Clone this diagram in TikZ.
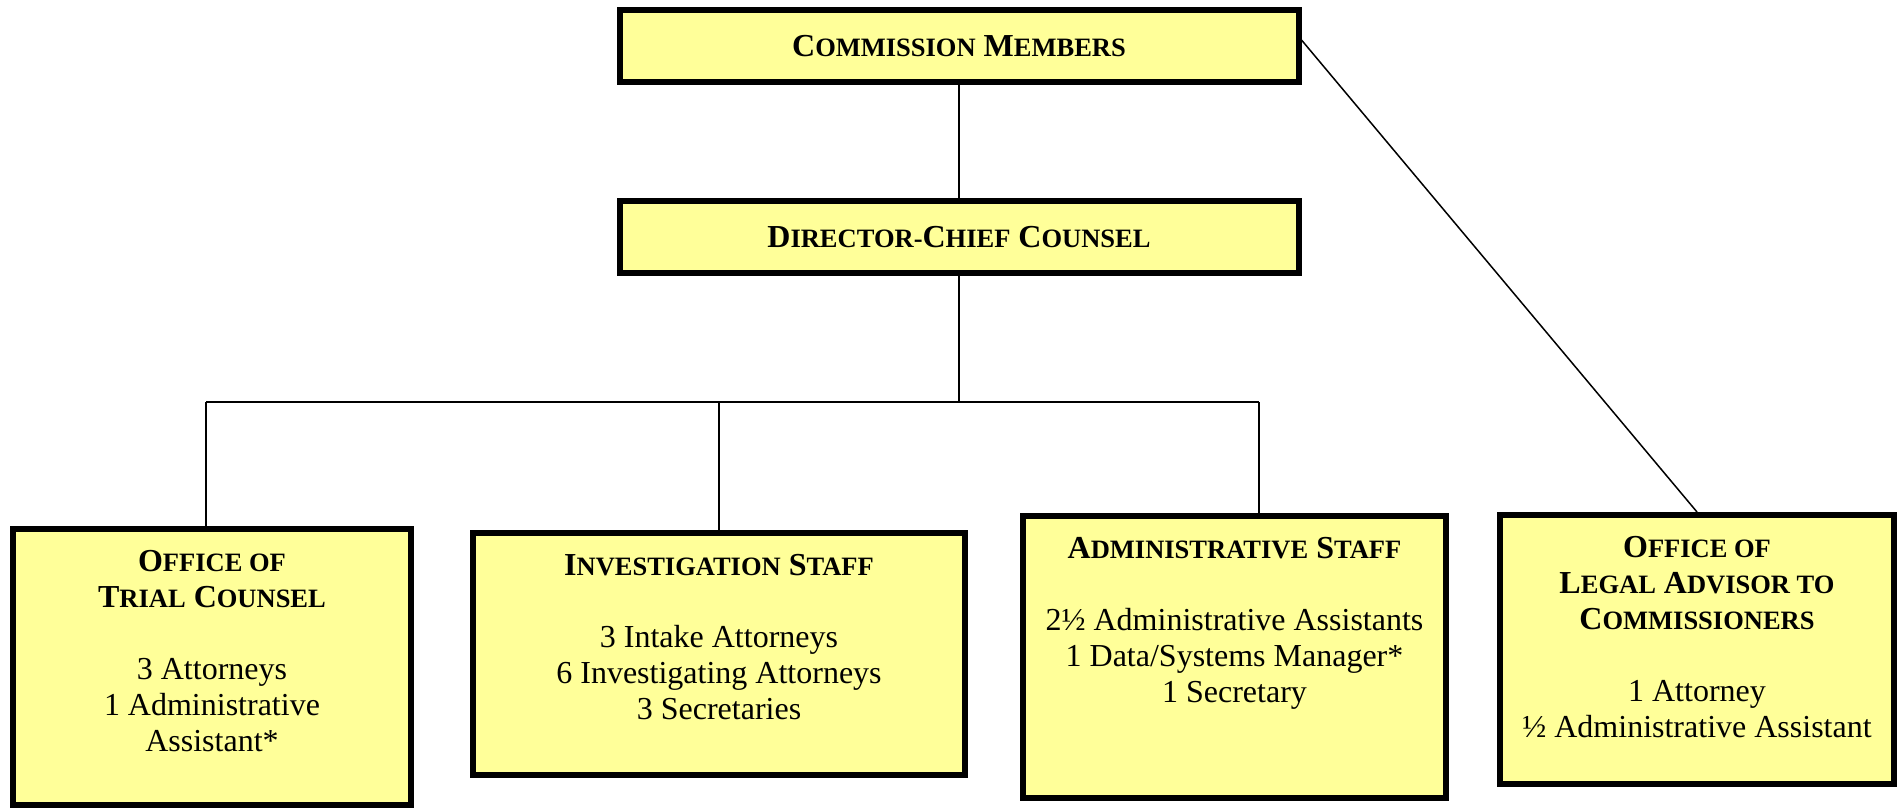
\documentclass[tikz,border=0pt]{standalone}
\usepackage{fontspec}
\setmainfont{Liberation Serif}
\usetikzlibrary{shapes}
\definecolor{boxYellow}{HTML}{FFFF99}
\newcommand{\sC}[2]{#1{\fontsize{26.5}{36}\selectfont #2}}
\newcommand{\unitLines}[1]{\begin{tabular}[t]{@{}c@{}}#1\end{tabular}}
\tikzstyle{topUnit}  = [rectangle, 
                        minimum width=679pt, 
                        minimum height=72pt, 
                        text centered, 
                        draw=black, 
                        line width=6pt, 
                        fill=boxYellow, 
                        font=\fontsize{32}{36}\selectfont\bfseries]
\tikzstyle{staffUnit} = [rectangle, 
                        anchor=north, 
                        inner ysep=14pt, 
                        text height=28pt, 
                        draw=black, 
                        line width=6pt, 
                        fill=boxYellow, 
                        font=\fontsize{32}{36}\selectfont]
\tikzstyle{link}     = [line width=1.5pt]

\begin{document}
\begin{tikzpicture}[x=1pt, y=-1pt]
        \useasboundingbox (0,0) rectangle (1904,808);

        \node [topUnit] (Commission) at (959,46) {\sC{C}{OMMISSION} \sC{M}{EMBERS}};
        \node [topUnit] (Director)   at (959,237) {\sC{D}{IRECTOR-}\sC{C}{HIEF} \sC{C}{OUNSEL}};

        \node [staffUnit, minimum width=398pt, text depth=220pt] (Trial) at (212,526) {\unitLines{
            \textbf{\sC{O}{FFICE OF}} \\ \textbf{\sC{T}{RIAL} \sC{C}{OUNSEL}} \\[36pt]
            3 Attorneys \\ 1 Administrative \\ Assistant*
            }};
        \node [staffUnit, minimum width=492pt, text depth=186pt] (Investigation) at (719,530) {\unitLines{
            \textbf{\sC{I}{NVESTIGATION} \sC{S}{TAFF}} \\[36pt]
            3 Intake Attorneys \\ 6 Investigating Attorneys \\ 3 Secretaries
            }};
        \node [staffUnit, minimum width=423pt, text depth=226pt] (Admin) at (1234.5,513) {\unitLines{
            \textbf{\sC{A}{DMINISTRATIVE} \sC{S}{TAFF}} \\[36pt]
            2½ Administrative Assistants \\ 1 Data/Systems Manager* \\ 1 Secretary
            }};
        \node [staffUnit, minimum width=394pt, text depth=213pt] (Legal) at (1697,512) {\unitLines{
            \textbf{\sC{O}{FFICE OF}} \\ \textbf{\sC{L}{EGAL} \sC{A}{DVISOR TO}} \\ \textbf{\sC{C}{OMMISSIONERS}} \\[36pt]
            1 Attorney \\ ½ Administrative Assistant
            }};

        \coordinate (busLeft)  at (206,402);
        \coordinate (busRight) at (1259,402);

        \draw [link] (Commission) -- (Director);
        \draw [link] (Director) -- (Director |- busLeft);
        \draw [link] (busLeft) -- (busRight);

        \draw [link] (busLeft) -- (busLeft |- Trial.north);
        \draw [link] (Investigation.north |- busLeft) -- (Investigation.north);
        \draw [link] (busRight) -- (busRight |- Admin.north);

        \draw [link] ([yshift=6pt]Commission.east) -- (Legal.north);

    \end{tikzpicture}
\end{document}
